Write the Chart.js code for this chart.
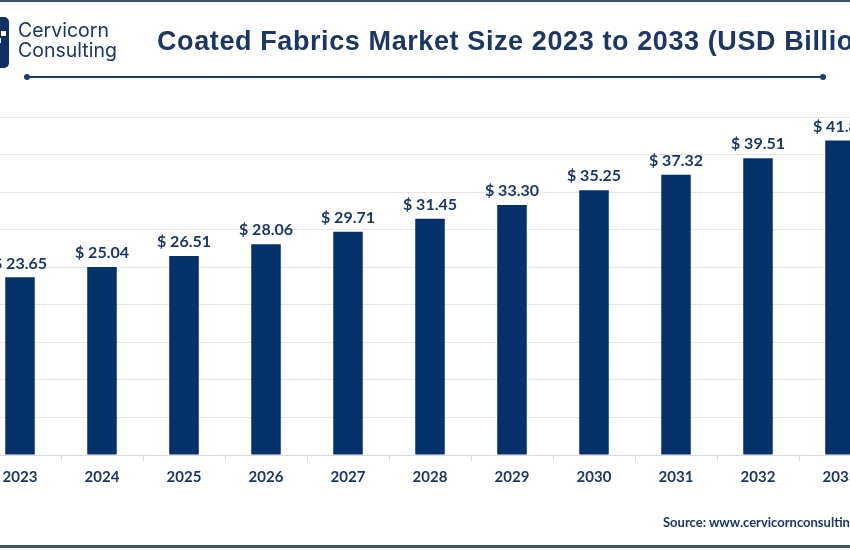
<!DOCTYPE html>
<html>
<head>
<meta charset="utf-8">
<script src="https://cdn.jsdelivr.net/npm/chart.js@4"></script>
<style>
  html, body { margin: 0; padding: 0; width: 850px; height: 550px; overflow: hidden; background: #fff; }
  .frame-top { position: absolute; left: 0; top: 0; width: 850px; height: 2px; background: #34506a; }
  .frame-bottom { position: absolute; left: 0; top: 545px; width: 850px; height: 3px; background: #3a5666; }
  .logo-box { position: absolute; left: -40px; top: 17px; width: 49px; height: 51px; border-radius: 5px; background: #0d2f63; }
  .logo-box span { position: absolute; background: #fff; }
  .brand { position: absolute; left: 18px; top: 20px; font-family: Inter, "Noto Sans", sans-serif; font-size: 19.5px; line-height: 20px; color: #1c3763; }
  .title { position: absolute; left: 157px; top: 26px; font-family: "Liberation Sans", Arial, sans-serif; font-weight: bold; font-size: 27px; letter-spacing: 0.6px; color: #1c3763; white-space: nowrap; }
  .rule { position: absolute; left: 27px; top: 76px; width: 796px; height: 2px; background: #1f3d6b; }
  .dot { position: absolute; top: 74px; width: 6px; height: 6px; border-radius: 50%; background: #1f3d6b; }
  .source { position: absolute; left: 663px; top: 514px; font-family: Lato, "Open Sans", sans-serif; font-weight: bold; font-size: 13px; color: #1c3763; white-space: nowrap; }
  #wrap { position: absolute; left: -29px; top: 0; width: 920px; height: 550px; }
</style>
</head>
<body>
<div id="wrap"><canvas id="chart"></canvas></div>

<div class="frame-top"></div>
<div class="frame-bottom"></div>
<div class="logo-box">
  <span style="left:41px; top:14px; width:5px; height:5px;"></span>
  <span style="left:36px; top:21px; width:5px; height:5px;"></span>
</div>
<div class="brand">Cervicorn<br>Consulting</div>
<div class="title">Coated Fabrics Market Size 2023 to 2033 (USD Billion)</div>
<div class="rule"></div>
<div class="dot" style="left:24px;"></div>
<div class="dot" style="left:820px;"></div>
<div class="source">Source: www.cervicornconsulting.com</div>

<script>
// chart data
const years = ['2023', '2024', '2025', '2026', '2027', '2028', '2029', '2030', '2031', '2032', '2033'];
const marketSize = [23.65, 25.04, 26.51, 28.06, 29.71, 31.45, 33.30, 35.25, 37.32, 39.51, 41.87];
const yMax = 45;
const yStep = 5;

const navy = '#04316a';
const textNavy = '#1c3763';

// value labels above each bar
const valueLabels = {
  id: 'valueLabels',
  afterDatasetsDraw(chart) {
    const ctx = chart.ctx;
    const meta = chart.getDatasetMeta(0);
    ctx.save();
    ctx.font = 'bold 16px Lato, "Open Sans", sans-serif';
    ctx.fillStyle = textNavy;
    ctx.textAlign = 'center';
    ctx.textBaseline = 'bottom';
    meta.data.forEach((bar, i) => {
      ctx.fillText('$ ' + marketSize[i].toFixed(2), bar.x, bar.y - 6);
    });
    ctx.restore();
  }
};

const ctx = document.getElementById('chart').getContext('2d');
new Chart(ctx, {
  type: 'bar',
  data: {
    labels: years,
    datasets: [{
      data: marketSize,
      backgroundColor: navy,
      barPercentage: 0.36,
      categoryPercentage: 1.0
    }]
  },
  options: {
    responsive: true,
    maintainAspectRatio: false,
    animation: false,
    layout: { padding: { left: 8, right: 10, top: 117, bottom: 57 } },
    plugins: {
      legend: { display: false },
      tooltip: { enabled: false }
    },
    scales: {
      x: {
        grid: {
          display: true,
          drawOnChartArea: false,
          drawTicks: true,
          tickLength: 6,
          color: '#dcdcdc',
          offset: true
        },
        border: { display: true, color: '#dcdcdc' },
        ticks: {
          color: textNavy,
          font: { family: 'Lato, "Open Sans", sans-serif', size: 15, weight: 'bold' },
          padding: 7
        }
      },
      y: {
        min: 0,
        max: yMax,
        ticks: { display: false, stepSize: yStep },
        grid: { color: '#e6e6e6', drawTicks: false },
        border: { display: false },
        afterFit(scale) { scale.width = 0; }
      }
    }
  },
  plugins: [valueLabels]
});
</script>
</body>
</html>
